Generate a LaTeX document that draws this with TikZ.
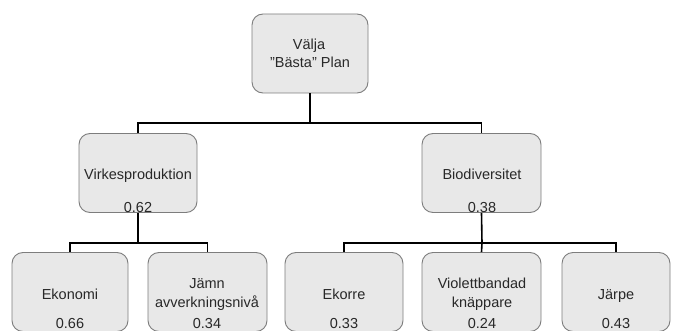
\documentclass[tikz,border=0pt]{standalone}
\usepackage{fontspec}
\setmainfont{Liberation Sans}
\definecolor{boxfill}{RGB}{232,232,232}
\definecolor{boxline}{RGB}{125,125,125}
\definecolor{txt}{RGB}{40,40,40}
\begin{document}
\begin{tikzpicture}[x=1pt,y=-1pt,
  box/.style={draw=boxline,line width=0.9pt,fill=boxfill,rounded corners=11pt,
              inner sep=0pt,minimum width=#1,minimum height=79pt},
  box/.default=118pt,
  lbl/.style={anchor=base,inner sep=0pt,text=txt,font=\fontsize{14.5}{17}\selectfont},
  conn/.style={line width=1.6pt,black}]
\useasboundingbox (0,0) rectangle (674,331);
\clip (0,0) rectangle (674,331);
% boxes
\node[box=116pt] (top) at (310,53.5) {};
\node[box] (vp) at (138,173) {};
\node[box=119pt] (bd) at (481.5,173) {};
\node[box=116pt] (ek) at (70,292) {};
\node[box=119pt] (ja) at (207.5,292) {};
\node[box] (ekr) at (344,292) {};
\node[box=119pt] (vi) at (481.5,292) {};
\node[box=108pt] (jp) at (616,292) {};
% texts
\node[lbl] (t1) at (309,50) {Välja};
\node[lbl] (t2) at (310,68) {\symbol{34}Bästa\symbol{34} Plan};
\node[lbl] (t3) at (138,180) {Virkesproduktion};
\node[lbl] (t4) at (138,212) {0.62};
\node[lbl] (t5) at (482,180) {Biodiversitet};
\node[lbl] (t6) at (482,212) {0.38};
\node[lbl] (t7) at (70,299) {Ekonomi};
\node[lbl] (t8) at (70,328) {0.66};
\node[lbl] (t9) at (207,288) {Jämn};
\node[lbl] (t10) at (207,307) {avverkningsnivå};
\node[lbl] (t11) at (207,328) {0.34};
\node[lbl] (t12) at (344,299) {Ekorre};
\node[lbl] (t13) at (344,328) {0.33};
\node[lbl] (t14) at (482,288) {Violettbandad};
\node[lbl] (t15) at (482,307) {knäppare};
\node[lbl] (t16) at (482,328) {0.24};
\node[lbl] (t17) at (616,299) {Järpe};
\node[lbl] (t18) at (616,328) {0.43};
% connectors
\coordinate (b1) at (310,123);
\coordinate (b2) at (138,243);
\coordinate (b3) at (482,243);
\draw[conn] (top.south) -- (b1);
\draw[conn] (b1) -| (vp.north);
\draw[conn] (b1) -| (bd.north);
\draw[conn] (vp.south) -- (b2);
\draw[conn] (b2) -| (ek.north);
\draw[conn] (b2) -| (ja.north);
\draw[conn] (bd.south) -- (b3);
\draw[conn] (b3) -| (ekr.north);
\draw[conn] (b3) -- (vi.north);
\draw[conn] (b3) -| (jp.north);
\end{tikzpicture}
\end{document}
